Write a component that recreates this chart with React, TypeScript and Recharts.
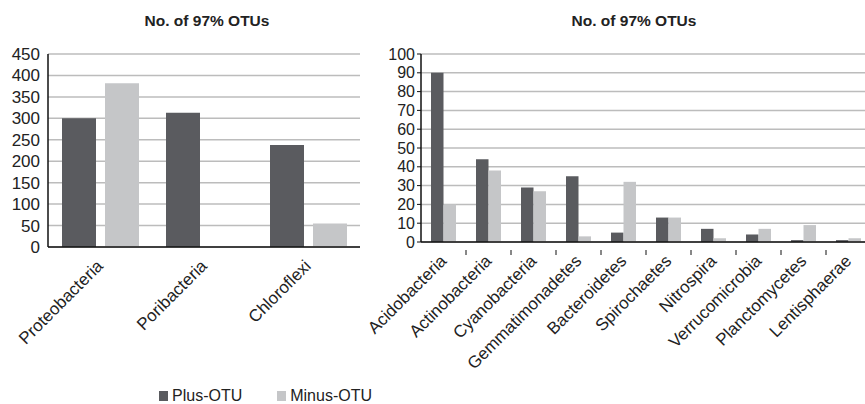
import { Bar, BarChart, CartesianGrid, XAxis, YAxis } from "recharts";

const PLUS = "#5a5b5f";
const MINUS = "#c5c6c8";
const FONT = "'Liberation Sans', Arial, sans-serif";

// dominant phyla
const majorPhyla = ["Proteobacteria", "Poribacteria", "Chloroflexi"];
const majorPlus = [300, 313, 238];
const majorMinus = [382, 0, 55];
const majorTicks = [0, 50, 100, 150, 200, 250, 300, 350, 400, 450];

// minor phyla
const minorPhyla = [
  "Acidobacteria",
  "Actinobacteria",
  "Cyanobacteria",
  "Gemmatimonadetes",
  "Bacteroidetes",
  "Spirochaetes",
  "Nitrospira",
  "Verrucomicrobia",
  "Planctomycetes",
  "Lentisphaerae",
];
const minorPlus = [90, 44, 29, 35, 5, 13, 7, 4, 1, 1];
const minorMinus = [20, 38, 27, 3, 32, 13, 2, 7, 9, 2];
const minorTicks = [0, 10, 20, 30, 40, 50, 60, 70, 80, 90, 100];

const majorData = majorPhyla.map((name, i) => ({
  name,
  plus: majorPlus[i],
  minus: majorMinus[i],
}));
const minorData = minorPhyla.map((name, i) => ({
  name,
  plus: minorPlus[i],
  minus: minorMinus[i],
}));

const AngledTick = ({ x, y, payload, band, edgeTicks }: any) => (
  <g transform={`translate(${x},${y})`}>
    {edgeTicks && (
      <line x1={band / 2} x2={band / 2} y1={0} y2={5} stroke="#111" strokeWidth={1} />
    )}
    <text
      x={0}
      y={0}
      transform="translate(4,12) rotate(-45)"
      textAnchor="end"
      fontSize={17}
      fontFamily={FONT}
      fill="#222"
    >
      {payload.value}
    </text>
  </g>
);

const titleStyle = (left: number): React.CSSProperties => ({
  position: "absolute",
  top: 12,
  left: left - 100,
  width: 200,
  textAlign: "center",
  fontFamily: FONT,
  fontWeight: "bold",
  fontSize: 15.5,
  color: "#222",
});

export default function App() {
  return (
    <div
      style={{
        position: "absolute",
        left: 0,
        top: 0,
        width: 865,
        height: 404,
        overflow: "hidden",
        background: "#fff",
        fontFamily: FONT,
      }}
    >
      <div style={titleStyle(207)}>No. of 97% OTUs</div>
      <div style={titleStyle(634)}>No. of 97% OTUs</div>

      <div style={{ position: "absolute", left: 0, top: 0 }}>
        <BarChart
          width={360}
          height={404}
          data={majorData}
          margin={{ top: 54, right: 0, left: 0, bottom: 57 }}
          barSize={34}
          barGap={9}
        >
          <CartesianGrid vertical={false} stroke="#bcbcbc" strokeWidth={1.5} />
          <XAxis
            dataKey="name"
            height={100}
            interval={0}
            tickLine={false}
            axisLine={{ stroke: "#111", strokeWidth: 1.5 }}
            tick={<AngledTick />}
          />
          <YAxis
            width={48}
            domain={[0, 450]}
            ticks={majorTicks}
            interval={0}
            tickLine={false}
            axisLine={{ stroke: "#111", strokeWidth: 1.5 }}
            tick={{ fontSize: 17, fill: "#222", fontFamily: FONT }}
          />
          <Bar dataKey="plus" fill={PLUS} isAnimationActive={false} />
          <Bar dataKey="minus" fill={MINUS} isAnimationActive={false} />
        </BarChart>
      </div>

      <div style={{ position: "absolute", left: 360, top: 0 }}>
        <BarChart
          width={512}
          height={404}
          data={minorData}
          margin={{ top: 54, right: 1, left: 0, bottom: 62 }}
          barSize={12.5}
          barGap={0}
        >
          <CartesianGrid vertical={false} stroke="#bcbcbc" strokeWidth={1.5} />
          <XAxis
            dataKey="name"
            height={100}
            interval={0}
            tickLine={false}
            axisLine={{ stroke: "#111", strokeWidth: 1.5 }}
            tick={<AngledTick band={45} edgeTicks />}
          />
          <YAxis
            width={61}
            domain={[0, 100]}
            ticks={minorTicks}
            interval={0}
            tickSize={4}
            tickLine={{ stroke: "#111" }}
            axisLine={{ stroke: "#111", strokeWidth: 1.5 }}
            tick={{ fontSize: 16, fill: "#222", fontFamily: FONT }}
          />
          <Bar dataKey="plus" fill={PLUS} isAnimationActive={false} />
          <Bar dataKey="minus" fill={MINUS} isAnimationActive={false} />
        </BarChart>
      </div>

      <div
        style={{
          position: "absolute",
          left: 159,
          top: 387,
          display: "flex",
          alignItems: "center",
          fontSize: 16,
          color: "#222",
          gap: 4,
        }}
      >
        <span style={{ width: 9, height: 10, background: PLUS, display: "inline-block" }} />
        <span style={{ marginRight: 31 }}>Plus-OTU</span>
        <span style={{ width: 9, height: 10, background: MINUS, display: "inline-block" }} />
        <span>Minus-OTU</span>
      </div>
    </div>
  );
}
